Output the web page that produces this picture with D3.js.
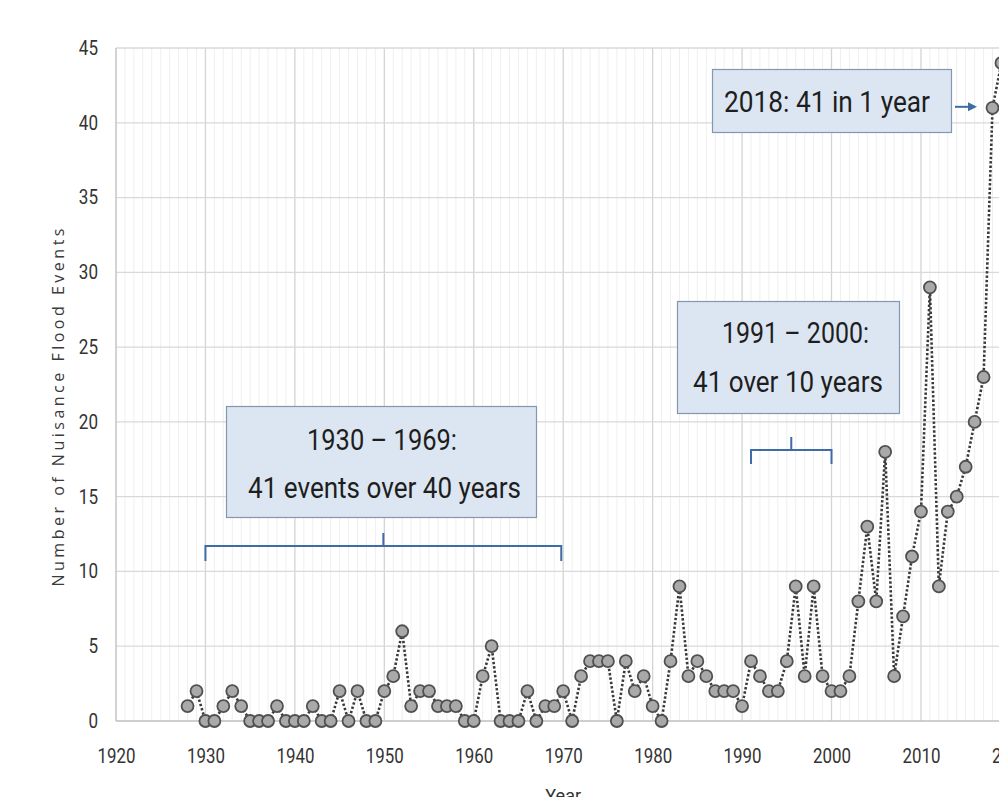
<!DOCTYPE html>
<html><head><meta charset="utf-8">
<script src="https://cdn.jsdelivr.net/npm/d3@7"></script>
<style>html,body{margin:0;padding:0;background:#fff;overflow:hidden}svg{display:block}</style>
</head><body>
<svg id="c" width="999" height="797"></svg>
<script>
const years = d3.range(1928, 2020);
const events = [1,2,0,0,1,2,1,0,0,0,1,0,0,0,1,0,0,2,0,2,0,0,
  2,3,6,1,2,2,1,1,1,0,
  0,3,5,0,0,0,2,0,1,1,
  2,0,3,4,4,4,0,4,2,3,
  1,0,4,9,3,4,3,2,2,2,
  1,4,3,2,2,4,9,3,9,3,
  2,2,3,8,13,8,18,3,7,11,
  14,29,9,14,15,17,20,23,41,44];
const yTicks = [0,5,10,15,20,25,30,35,40,45];
const xTicks = [1920,1930,1940,1950,1960,1970,1980,1990,2000,2010,2020];
const annotations = [
  {lines:["1930 \u2013 1969:","41 events over 40 years"], from:1930, to:1969},
  {lines:["1991 \u2013 2000:","41 over 10 years"], from:1991, to:2000},
  {lines:["2018: 41 in 1 year"], year:2018, value:41}
];
const yLabel = "Number of Nuisance Flood Events";
const xLabel = "Year";

const svg = d3.select("#c");
const x = d3.scaleLinear().domain([1920, 2020]).range([116, 1010.4]);
const y = d3.scaleLinear().domain([0, 45]).range([721, 48]);
const font = "Roboto,'Liberation Sans',sans-serif";

// minor vertical grid
svg.append("g").selectAll("line").data(d3.range(1921, 2021).filter(v => v % 10 !== 0))
  .join("line").attr("x1", d => x(d)).attr("x2", d => x(d)).attr("y1", y(45)).attr("y2", y(0))
  .attr("stroke", "#efefef").attr("stroke-width", 1);
// major vertical grid
svg.append("g").selectAll("line").data(xTicks.slice(1))
  .join("line").attr("x1", d => x(d)).attr("x2", d => x(d)).attr("y1", y(45)).attr("y2", y(0))
  .attr("stroke", "#d4d4d4").attr("stroke-width", 1.3);
// horizontal grid
svg.append("g").selectAll("line").data(yTicks)
  .join("line").attr("x1", x(1920)).attr("x2", 999).attr("y1", d => y(d)).attr("y2", d => y(d))
  .attr("stroke", d => d === 0 ? "#bfbfbf" : "#d9d9d9").attr("stroke-width", d => d === 0 ? 1.6 : 1.3);
// left axis line
svg.append("line").attr("x1", x(1920)).attr("x2", x(1920)).attr("y1", y(45)).attr("y2", y(0))
  .attr("stroke", "#c4c4c4").attr("stroke-width", 1.5);

// axes via d3
const yAxis = svg.append("g").attr("transform", `translate(${x(1920) - 18},0)`)
  .call(d3.axisLeft(y).tickValues(yTicks).tickSize(0).tickPadding(0));
yAxis.select(".domain").remove();
yAxis.selectAll("text").attr("font-family", font).attr("font-size", 20).attr("fill", "#333")
  .each(function (d) { const n = String(d).length; d3.select(this).attr("textLength", n * 9.6).attr("lengthAdjust", "spacingAndGlyphs"); });

const xAxis = svg.append("g").attr("transform", `translate(0,${y(0) + 28})`)
  .call(d3.axisBottom(x).tickValues(xTicks).tickFormat(d3.format("d")).tickSize(0).tickPadding(0));
xAxis.select(".domain").remove();
xAxis.selectAll("text").attr("font-family", font).attr("font-size", 20).attr("fill", "#333")
  .attr("textLength", 38).attr("lengthAdjust", "spacingAndGlyphs");

// axis titles
svg.append("text").attr("transform", `translate(64,${(225 + 590) / 2}) rotate(-90)`)
  .attr("text-anchor", "middle").attr("font-family", "'Open Sans',sans-serif").attr("font-size", 16)
  .attr("fill", "#3a3a3a").attr("textLength", 358).attr("lengthAdjust", "spacing").text(yLabel);
svg.append("text").attr("x", x(1970)).attr("y", 802).attr("text-anchor", "middle")
  .attr("font-family", font).attr("font-size", 18).attr("fill", "#333").text(xLabel);

// data
const data = years.map((yr, i) => ({yr, v: events[i]}));
svg.append("path").datum(data)
  .attr("d", d3.line().x(d => x(d.yr)).y(d => y(d.v)))
  .attr("fill", "none").attr("stroke", "#3a3a3a").attr("stroke-width", 2.6).attr("stroke-dasharray", "2.4,2");
svg.append("g").selectAll("circle").data(data).join("circle")
  .attr("cx", d => x(d.yr)).attr("cy", d => y(d.v)).attr("r", 6)
  .attr("fill", "#a9a9a9").attr("stroke", "#505050").attr("stroke-width", 1.8);

// annotations
const boxFill = "#dce6f2", boxStroke = "#8497b0", blue = "#3f6ca6";
function fitText(sel, target) {
  const w = sel.node().getComputedTextLength();
  if (Math.abs(w - target) / target > 0.02) sel.attr("textLength", target).attr("lengthAdjust", "spacingAndGlyphs");
}
function addText(tx, ty, str, target) {
  const t = svg.append("text").attr("x", tx).attr("y", ty).attr("text-anchor", "middle")
    .attr("font-family", font).attr("font-size", 30).attr("fill", "#1e1e1e").text(str);
  fitText(t, target);
}
// box 1
(function () {
  const a = annotations[0];
  svg.append("rect").attr("x", 226.5).attr("y", 406.5).attr("width", 310).attr("height", 111)
    .attr("fill", boxFill).attr("stroke", boxStroke).attr("stroke-width", 1.2);
  addText(382, 450, a.lines[0], 150);
  addText(384.5, 498, a.lines[1], 273);
  const bx1 = x(a.from), bx2 = x(a.to) + 7, by = 546, mid = (bx1 + bx2) / 2;
  svg.append("path").attr("d", `M${bx1},${by + 15}V${by}H${bx2}V${by + 15}M${mid},${by}V${by - 13}`)
    .attr("fill", "none").attr("stroke", blue).attr("stroke-width", 2);
})();
// box 2
(function () {
  const a = annotations[1];
  svg.append("rect").attr("x", 677.5).attr("y", 301.5).attr("width", 222).attr("height", 112)
    .attr("fill", boxFill).attr("stroke", boxStroke).attr("stroke-width", 1.2);
  addText(795.5, 343, a.lines[0], 147);
  addText(788, 392, a.lines[1], 190);
  const bx1 = x(a.from), bx2 = x(a.to), by = 450, mid = (bx1 + bx2) / 2;
  svg.append("path").attr("d", `M${bx1},${by + 14}V${by}H${bx2}V${by + 14}M${mid},${by}V${by - 13}`)
    .attr("fill", "none").attr("stroke", blue).attr("stroke-width", 2);
})();
// box 3
(function () {
  const a = annotations[2];
  svg.append("rect").attr("x", 712.5).attr("y", 69.5).attr("width", 239).attr("height", 63)
    .attr("fill", boxFill).attr("stroke", boxStroke).attr("stroke-width", 1.2);
  addText(827, 112, a.lines[0], 206);
  const ay = y(a.value) - 1;
  svg.append("line").attr("x1", 955).attr("x2", 970).attr("y1", ay).attr("y2", ay)
    .attr("stroke", blue).attr("stroke-width", 2);
  svg.append("path").attr("d", `M${977},${ay}L${968},${ay - 4.5}L${968},${ay + 4.5}Z`).attr("fill", blue);
})();
</script>
</body></html>
